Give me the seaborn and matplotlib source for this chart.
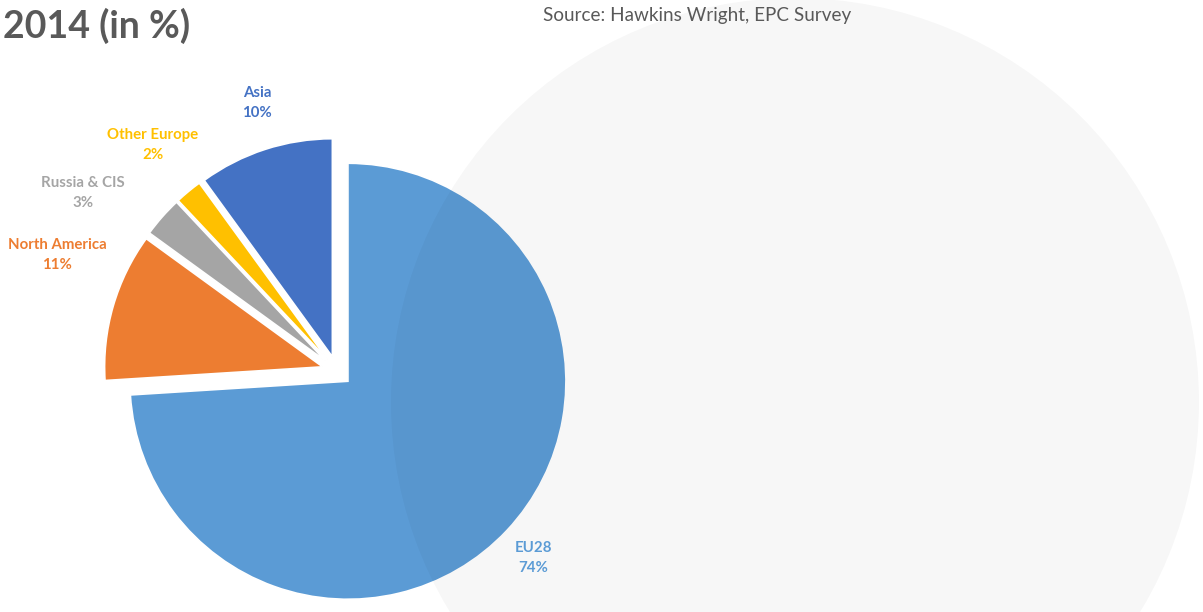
import matplotlib
matplotlib.use("Agg")
import matplotlib.pyplot as plt
from matplotlib.patches import Circle
import seaborn as sns

# ---- data ----
regions = ["EU28", "North America", "Russia & CIS", "Other Europe", "Asia"]
shares = [74, 11, 3, 2, 10]
colors = ["#5B9BD5", "#ED7D31", "#A5A5A5", "#FFC000", "#4472C4"]
title_text = "2014 (in %)"
source_text = "Source: Hawkins Wright, EPC Survey"

sns.set_theme(style="white")
plt.rcParams["font.family"] = ["Lato", "DejaVu Sans"]

W, H = 1203, 612
fig = plt.figure(figsize=(W / 100, H / 100), dpi=100)
fig.patch.set_facecolor("white")
ax = fig.add_axes([0, 0, 1, 1])

cx, cy, R = 337, H - 371, 218
expl = 15
wedges, _ = ax.pie(
    shares, colors=colors, startangle=90, counterclock=False,
    center=(cx, cy), radius=R, explode=[expl] * len(shares),
    wedgeprops=dict(edgecolor="white", linewidth=1.2),
)
ax.set_xlim(0, W)
ax.set_ylim(0, H)
ax.set_aspect("equal")
ax.axis("off")

# large faint background circle (drawn over the pie, translucent)
ax.add_patch(Circle((795, H - 402), 404, facecolor="black", alpha=0.031,
                    edgecolor="none", zorder=5))

# data label anchor points (pixels from top-left), in the order of `regions`
label_xy = [(533, 558), (57, 255), (83, 193), (153, 145), (257, 103)]
for name, val, col, (lx, ly) in zip(regions, shares, colors, label_xy):
    ax.text(lx, H - ly, f"{name}\n{val}%", color=col, ha="center", va="center",
            fontsize=10.8, fontweight="bold", linespacing=1.5, zorder=10)

ax.text(190, H - 26, title_text, ha="right", va="center", fontsize=27,
        fontweight="bold", color="#595959", zorder=10)
ax.text(543, H - 15, source_text, ha="left", va="center", fontsize=13.6,
        color="#595959", zorder=10)

fig.savefig("out.png", dpi=100, facecolor="white")
